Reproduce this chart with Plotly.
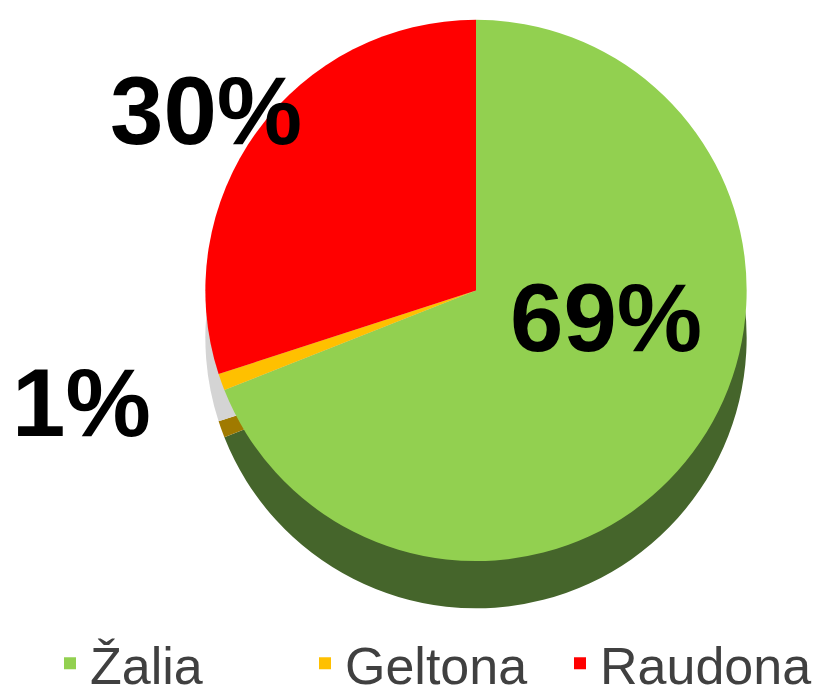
import plotly.graph_objects as go

# Data
categories = ["Žalia", "Geltona", "Raudona"]
values = [69, 1, 30]
top_colors = ["#92D050", "#FFC000", "#FF0000"]
side_colors = ["#45652B", "#A07A00", "#D4D4D4"]

W, H = 838, 696
total = sum(values)
pct_text = [f"<b>{round(v / total * 100)}%</b>" for v in values]

def px_dom(x0, x1, y0, y1):
    return dict(x=[x0 / W, x1 / W], y=[1 - y1 / H, 1 - y0 / H])

fig = go.Figure()

# "side" of the 3D pie: darker copy offset downward
fig.add_trace(go.Pie(
    labels=categories, values=values, sort=False, direction="clockwise", rotation=0,
    marker=dict(colors=side_colors, line=dict(width=0)),
    textinfo="none", hoverinfo="skip", showlegend=False,
    domain=px_dom(193, 743, 60, 610),
))
# top face
fig.add_trace(go.Pie(
    labels=categories, values=values, sort=False, direction="clockwise", rotation=0,
    marker=dict(colors=top_colors, line=dict(width=0)),
    textinfo="none", showlegend=True,
    domain=px_dom(193, 743, 12, 562),
))

label_pos = [(598, 314), (73, 401), (198, 104)]
for t, (x, y) in zip(pct_text, label_pos):
    fig.add_annotation(
        x=x / W, y=1 - y / H, xref="paper", yref="paper", text=t, showarrow=False,
        font=dict(family="Liberation Sans, Arial, sans-serif", size=96, color="#000000"),
        xanchor="center", yanchor="middle",
    )

fig.update_layout(
    width=W, height=H,
    margin=dict(l=0, r=0, t=0, b=0),
    paper_bgcolor="#FFFFFF", plot_bgcolor="#FFFFFF",
    legend=dict(
        orientation="h", x=42 / W, xanchor="left", y=-0.016, yanchor="bottom",
        entrywidth=210, entrywidthmode="pixels",
        font=dict(family="Liberation Sans, Arial, sans-serif", size=52, color="#404040"),
        itemclick=False, itemdoubleclick=False,
    ),
)

fig.write_html("out.html")
